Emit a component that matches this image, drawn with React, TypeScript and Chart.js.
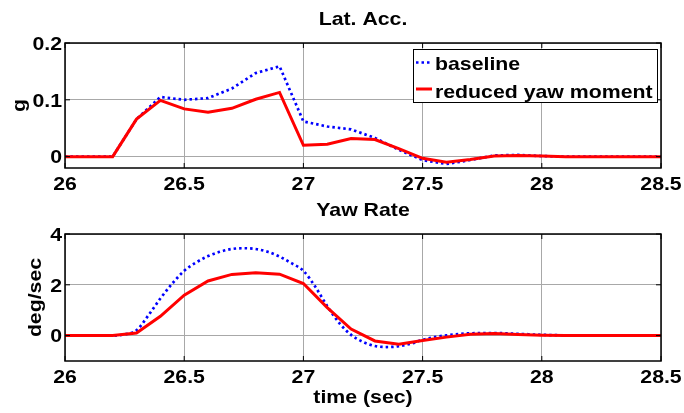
import { useEffect, useRef } from "react";
import { Chart, registerables } from "chart.js";

Chart.register(...registerables);

// Sample times (s) shared by the lateral-acceleration traces and the reduced yaw-rate trace
const timeCoarse = [
  26.0, 26.1, 26.2, 26.3, 26.4, 26.5, 26.6, 26.7, 26.8, 26.9,
  27.0, 27.1, 27.2, 27.3, 27.4, 27.5, 27.6, 27.7, 27.8, 27.9,
  28.0, 28.1, 28.2, 28.3, 28.4, 28.5,
];

// Lateral acceleration (g)
const latAccBaseline = [
  0, 0, 0, 0.066, 0.105, 0.1, 0.103, 0.12, 0.147, 0.159,
  0.062, 0.053, 0.048, 0.033, 0.012, -0.006, -0.013, -0.006, 0.002, 0.003,
  0.001, 0, 0, 0, 0, 0,
];
const latAccReduced = [
  0, 0, 0, 0.066, 0.099, 0.084, 0.078, 0.085, 0.101, 0.113,
  0.02, 0.022, 0.032, 0.03, 0.014, -0.003, -0.01, -0.005, 0.001, 0.002,
  0.001, 0, 0, 0, 0, 0,
];

// Yaw rate (deg/sec); the baseline trace is sampled more finely through the transient
const yawTimeBaseline = [
  26.0, 26.1, 26.2, 26.25, 26.3, 26.35, 26.4, 26.45, 26.5, 26.55,
  26.6, 26.65, 26.7, 26.75, 26.8, 26.85, 26.9, 26.95, 27.0, 27.05,
  27.1, 27.15, 27.2, 27.25, 27.3, 27.35, 27.4, 27.45, 27.5, 27.55,
  27.6, 27.7, 27.8, 27.9, 28.0, 28.1, 28.2, 28.3, 28.4, 28.5,
];
const yawRateBaseline = [
  0, 0, 0, 0.05, 0.21, 0.8, 1.46, 2.05, 2.55, 2.88,
  3.13, 3.3, 3.41, 3.44, 3.41, 3.3, 3.11, 2.85, 2.55, 1.92,
  1.16, 0.5, 0.03, -0.25, -0.41, -0.45, -0.42, -0.32, -0.17, -0.06,
  0.01, 0.09, 0.1, 0.07, 0.03, 0.01, 0, 0, 0, 0,
];
const yawRateReduced = [
  0, 0, 0, 0.1, 0.76, 1.59, 2.15, 2.41, 2.47, 2.42,
  2.05, 1.1, 0.26, -0.21, -0.34, -0.19, -0.06, 0.05, 0.08, 0.04,
  0.01, 0, 0, 0, 0, 0,
];

// Axis ticks and their labels
const timeTicks = [26, 26.5, 27, 27.5, 28, 28.5];
const timeTickLabels = ["26", "26.5", "27", "27.5", "28", "28.5"];
const latAccTicks = [0, 0.1, 0.2];
const latAccTickLabels = ["0", "0.1", "0.2"];
const yawTicks = [0, 2, 4];
const yawTickLabels = ["0", "2", "4"];

const legendLabels = ["baseline", "reduced yaw moment"];

const BLUE = "#0000ff";
const RED = "#ff0000";
const GRID = "#a8a8a8";
const FONT = 'bold 19px "Liberation Sans", Arial, Helvetica, sans-serif';
const STRETCH = 1.12;
const BLUE_DASH = [2.5, 3];

const W = 684;

function drawText(
  ctx: CanvasRenderingContext2D,
  text: string,
  x: number,
  y: number,
  align: CanvasTextAlign,
  rotate = 0
) {
  ctx.save();
  ctx.translate(x, y);
  if (rotate) ctx.rotate(rotate);
  ctx.scale(STRETCH, 1);
  ctx.font = FONT;
  ctx.fillStyle = "#000";
  ctx.textAlign = align;
  ctx.textBaseline = "alphabetic";
  ctx.fillText(text, 0, 0);
  ctx.restore();
}

function seg(ctx: CanvasRenderingContext2D, x1: number, y1: number, x2: number, y2: number) {
  ctx.beginPath();
  ctx.moveTo(x1, y1);
  ctx.lineTo(x2, y2);
  ctx.stroke();
}

type FrameOpts = {
  title: string;
  yTitle: string;
  yTitleX: number;
  yTicks: number[];
  yTickLabels: string[];
  xTitle?: string;
  legend?: boolean;
};

// Box, inward tick marks, tick labels, titles and the legend, drawn MATLAB-style
function makeFramePlugin(o: FrameOpts) {
  return {
    id: "frame",
    afterDraw(chart: Chart) {
      const { ctx, chartArea: a } = chart;
      const xs = chart.scales.x;
      const ys = chart.scales.y;
      ctx.save();

      ctx.strokeStyle = "#000";
      ctx.lineWidth = 1;
      timeTicks.forEach((v) => {
        const px = xs.getPixelForValue(v);
        seg(ctx, px, a.bottom, px, a.bottom - 5);
        seg(ctx, px, a.top, px, a.top + 5);
      });
      o.yTicks.forEach((v) => {
        const py = ys.getPixelForValue(v);
        seg(ctx, a.left, py, a.left + 5, py);
        seg(ctx, a.right, py, a.right - 5, py);
      });

      ctx.lineWidth = 1.5;
      ctx.strokeRect(a.left, a.top, a.right - a.left, a.bottom - a.top);

      timeTicks.forEach((v, i) => {
        drawText(ctx, timeTickLabels[i], xs.getPixelForValue(v), a.bottom + 22, "center");
      });
      o.yTicks.forEach((v, i) => {
        drawText(ctx, o.yTickLabels[i], a.left - 3, ys.getPixelForValue(v) + 6.8, "right");
      });

      const cx = (a.left + a.right) / 2;
      const cy = (a.top + a.bottom) / 2;
      drawText(ctx, o.title, cx, a.top - 18, "center");
      drawText(ctx, o.yTitle, o.yTitleX, cy, "center", -Math.PI / 2);
      if (o.xTitle) drawText(ctx, o.xTitle, cx, a.bottom + 42, "center");

      if (o.legend) {
        const lx = 413;
        const ly = 49;
        const lw = 244;
        const lh = 53;
        ctx.fillStyle = "#fff";
        ctx.fillRect(lx, ly, lw, lh);
        ctx.strokeStyle = "#000";
        ctx.lineWidth = 1;
        ctx.strokeRect(lx + 0.5, ly + 0.5, lw, lh);

        ctx.lineWidth = 2.7;
        ctx.strokeStyle = BLUE;
        ctx.setLineDash(BLUE_DASH);
        seg(ctx, lx + 3, ly + 13.5, lx + 19, ly + 13.5);
        ctx.setLineDash([]);
        ctx.lineWidth = 3;
        ctx.strokeStyle = RED;
        seg(ctx, lx + 3, ly + 40, lx + 19, ly + 40);

        drawText(ctx, legendLabels[0], lx + 22, ly + 20.5, "left");
        drawText(ctx, legendLabels[1], lx + 22, ly + 48.5, "left");
      }
      ctx.restore();
    },
  };
}

function makeChart(
  canvas: HTMLCanvasElement,
  height: number,
  padTop: number,
  xAxisHeight: number,
  yMin: number,
  yMax: number,
  baseline: { x: number; y: number }[],
  reduced: { x: number; y: number }[],
  smoothBaseline: boolean,
  frame: FrameOpts
) {
  const grid = { color: GRID, lineWidth: 1, drawTicks: false };
  return new Chart(canvas, {
    type: "line",
    data: {
      datasets: [
        {
          label: legendLabels[0],
          data: baseline,
          borderColor: BLUE,
          borderWidth: 2.7,
          borderDash: BLUE_DASH,
          pointRadius: 0,
          cubicInterpolationMode: smoothBaseline ? "monotone" : "default",
          tension: 0,
          order: 1,
        },
        {
          label: legendLabels[1],
          data: reduced,
          borderColor: RED,
          borderWidth: 3,
          pointRadius: 0,
          tension: 0,
          order: 0,
        },
      ],
    },
    options: {
      responsive: false,
      animation: false,
      events: [],
      layout: { padding: { top: padTop, right: W - 661, left: 0, bottom: 0 } },
      plugins: {
        legend: { display: false },
        tooltip: { enabled: false },
        title: { display: false },
      },
      scales: {
        x: {
          type: "linear",
          min: 26,
          max: 28.5,
          afterBuildTicks: (s: any) => {
            s.ticks = timeTicks.map((v) => ({ value: v }));
          },
          afterFit: (s: any) => {
            s.height = xAxisHeight;
          },
          ticks: { display: false },
          grid,
          border: { display: false },
        },
        y: {
          type: "linear",
          min: yMin,
          max: yMax,
          afterBuildTicks: (s: any) => {
            s.ticks = frame.yTicks.map((v) => ({ value: v }));
          },
          afterFit: (s: any) => {
            s.width = 65;
          },
          ticks: { display: false },
          grid,
          border: { display: false },
        },
      },
    } as any,
    plugins: [makeFramePlugin(frame)],
  });
}

export default function App() {
  const topRef = useRef<HTMLCanvasElement>(null);
  const bottomRef = useRef<HTMLCanvasElement>(null);

  useEffect(() => {
    const top = makeChart(
      topRef.current!,
      200,
      43,
      32,
      -0.02,
      0.2,
      timeCoarse.map((t, i) => ({ x: t, y: latAccBaseline[i] })),
      timeCoarse.map((t, i) => ({ x: t, y: latAccReduced[i] })),
      false,
      {
        title: "Lat. Acc.",
        yTitle: "g",
        yTitleX: 25,
        yTicks: latAccTicks,
        yTickLabels: latAccTickLabels,
        legend: true,
      }
    );
    const bottom = makeChart(
      bottomRef.current!,
      213,
      34,
      52,
      -1,
      4,
      yawTimeBaseline.map((t, i) => ({ x: t, y: yawRateBaseline[i] })),
      timeCoarse.map((t, i) => ({ x: t, y: yawRateReduced[i] })),
      true,
      {
        title: "Yaw Rate",
        yTitle: "deg/sec",
        yTitleX: 40.5,
        yTicks: yawTicks,
        yTickLabels: yawTickLabels,
        xTitle: "time (sec)",
      }
    );
    return () => {
      top.destroy();
      bottom.destroy();
    };
  }, []);

  return (
    <div
      style={{
        position: "absolute",
        left: 0,
        top: 0,
        width: W,
        height: 413,
        background: "#fff",
      }}
    >
      <canvas
        ref={topRef}
        width={W}
        height={200}
        style={{ position: "absolute", left: 0, top: 0, width: W, height: 200 }}
      />
      <canvas
        ref={bottomRef}
        width={W}
        height={213}
        style={{ position: "absolute", left: 0, top: 200, width: W, height: 213 }}
      />
    </div>
  );
}
